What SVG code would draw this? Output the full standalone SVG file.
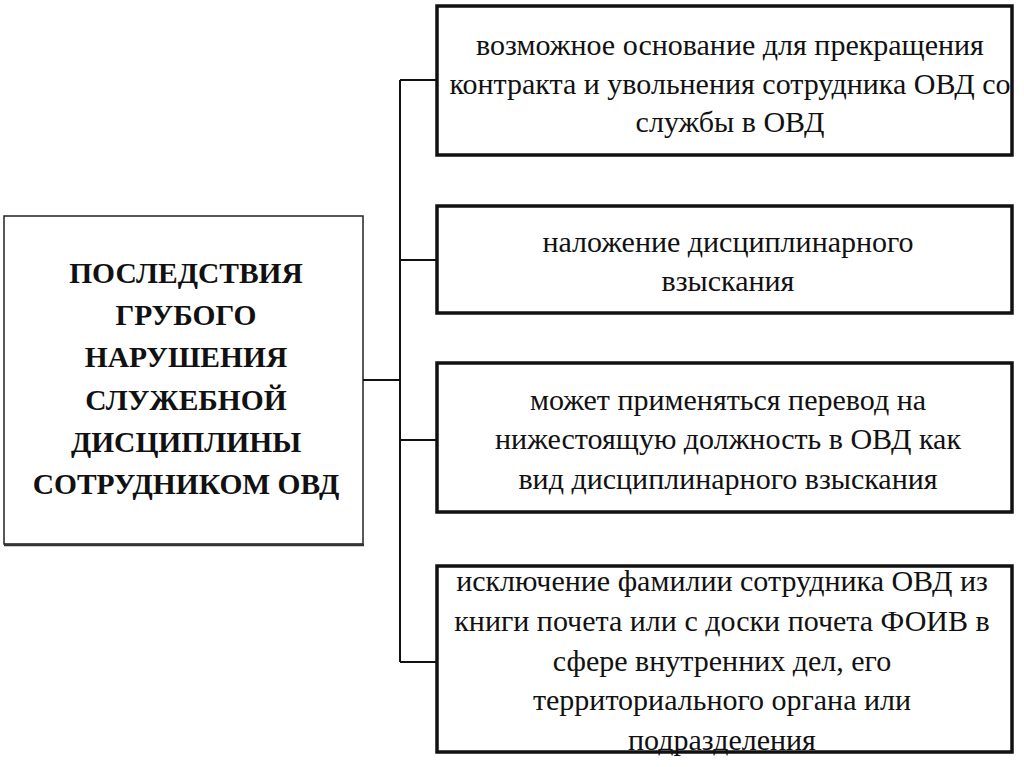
<svg xmlns="http://www.w3.org/2000/svg" width="1024" height="767" viewBox="0 0 1024 767">
<style>
.box{fill:#fff;stroke:#111;stroke-width:3.5}
.lbox{fill:#fff;stroke:#222;stroke-width:1.5}
.t{font-family:"Liberation Serif","DejaVu Serif",serif;font-size:30px;fill:#111;text-anchor:middle}
.h{font-family:"Liberation Serif","DejaVu Serif",serif;font-size:29.5px;font-weight:bold;fill:#111;text-anchor:middle}
.c{stroke:#111;stroke-width:2;fill:none}
</style>
<rect width="1024" height="767" fill="#fff"/>
<g id="main">
<rect class="lbox" x="4" y="216" width="359" height="328"/>
<line x1="4" y1="545" x2="364" y2="545" stroke="#333" stroke-width="2.5"/>
<text class="h" x="186" y="283">ПОСЛЕДСТВИЯ</text>
<text class="h" x="186" y="325">ГРУБОГО</text>
<text class="h" x="186" y="367">НАРУШЕНИЯ</text>
<text class="h" x="186" y="410">СЛУЖЕБНОЙ</text>
<text class="h" x="186" y="452">ДИСЦИПЛИНЫ</text>
<text class="h" x="186" y="494">СОТРУДНИКОМ ОВД</text>
</g>
<g id="connectors">
<path class="c" d="M363 380H400M400 80V662M400 80H437M400 260H437M400 440H437M400 662H437"/>
</g>
<g id="n1">
<rect class="box" x="437" y="6" width="575" height="149"/>
<text class="t" x="730" y="55">возможное основание для прекращения</text>
<text class="t" x="730" y="94">контракта и увольнения сотрудника ОВД со</text>
<text class="t" x="730" y="132">службы в ОВД</text>
</g>
<g id="n2">
<rect class="box" x="437" y="206" width="575" height="107"/>
<text class="t" x="728" y="252">наложение дисциплинарного</text>
<text class="t" x="728" y="291">взыскания</text>
</g>
<g id="n3">
<rect class="box" x="437" y="363" width="575" height="149"/>
<text class="t" x="728" y="410">может применяться перевод на</text>
<text class="t" x="728" y="449">нижестоящую должность в ОВД как</text>
<text class="t" x="728" y="489">вид дисциплинарного взыскания</text>
</g>
<g id="n4">
<rect class="box" x="437" y="566" width="575" height="186"/>
<text class="t" x="722" y="591">исключение фамилии сотрудника ОВД  из</text>
<text class="t" x="722" y="631">книги почета или с доски почета ФОИВ в</text>
<text class="t" x="722" y="671">сфере внутренних дел, его</text>
<text class="t" x="722" y="710">территориального органа или</text>
<text class="t" x="722" y="750">подразделения</text>
</g>
</svg>
